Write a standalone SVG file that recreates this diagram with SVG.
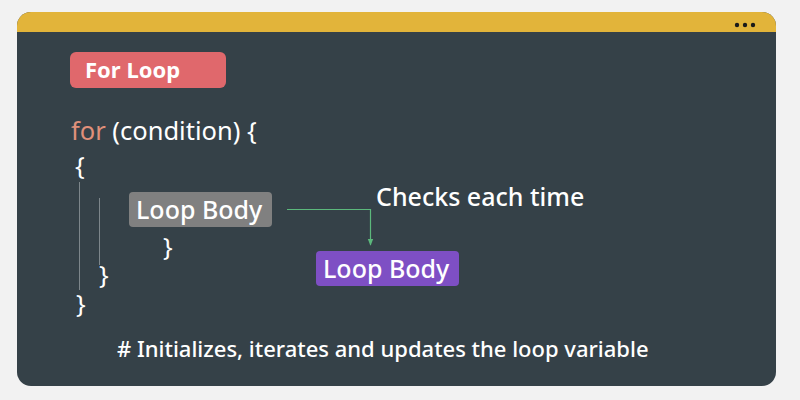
<svg xmlns="http://www.w3.org/2000/svg" width="800" height="400" viewBox="0 0 800 400">
<defs>
<style>
.t{font-family:"Noto Sans","Open Sans",sans-serif;fill:#ffffff;}
.code{font-size:25.5px;}
.lbl{font-size:25px;font-weight:500;}
.guide{stroke:#7d868b;stroke-width:1;}
</style>
<marker id="arr" viewBox="0 0 10 10" refX="9" refY="5" markerWidth="6" markerHeight="6" orient="auto">
<path d="M0,1 L10,5 L0,9 z" fill="#5cb87c"/>
</marker>
<clipPath id="card"><rect x="17" y="12" width="759" height="374" rx="14"/></clipPath>
</defs>
<rect width="800" height="400" fill="#f2f2f2"/>
<g id="card-frame">
<g clip-path="url(#card)">
<rect x="17" y="12" width="759" height="374" fill="#354148"/>
<rect x="17" y="12" width="759" height="20" fill="#e2b43a"/>
</g>
<circle cx="737" cy="25" r="2.2" fill="#1a1a1a"/>
<circle cx="745" cy="25" r="2.2" fill="#1a1a1a"/>
<circle cx="753" cy="25" r="2.2" fill="#1a1a1a"/>
</g>
<g id="title">
<rect x="70" y="52" width="156" height="36" rx="6" fill="#e0686c"/>
<text class="t" x="85" y="78" font-size="22" font-weight="bold">For Loop</text>
</g>
<g id="code">
<text class="t code" x="71" y="140"><tspan fill="#e0907a">for</tspan> (condition) {</text>
<text class="t code" x="75" y="175">{</text>
<line class="guide" x1="79.5" y1="182" x2="79.5" y2="290"/>
<line class="guide" x1="99.5" y1="198" x2="99.5" y2="265"/>
<text class="t code" x="163" y="256">}</text>
<text class="t code" x="99" y="284">}</text>
<text class="t code" x="76" y="313">}</text>
</g>
<g id="loop-body-1">
<rect x="129" y="192" width="143" height="35" rx="4" fill="#808080"/>
<text class="t lbl" x="136" y="219">Loop Body</text>
</g>
<g id="loop-body-2">
<rect x="316" y="251" width="143" height="35" rx="4" fill="#7e4fc4"/>
<text class="t lbl" x="323" y="278">Loop Body</text>
</g>
<g id="checks-label">
<text class="t lbl" x="376" y="206">Checks each time</text>
</g>
<g id="connectors">
<path d="M287,209.5 H370.5 V245" fill="none" stroke="#5cb87c" stroke-width="1.2" marker-end="url(#arr)"/>
</g>
<g id="note">
<text class="t" x="117" y="357" font-size="22" font-weight="500">#&#160;Initializes, iterates and updates the loop variable</text>
</g>
</svg>
